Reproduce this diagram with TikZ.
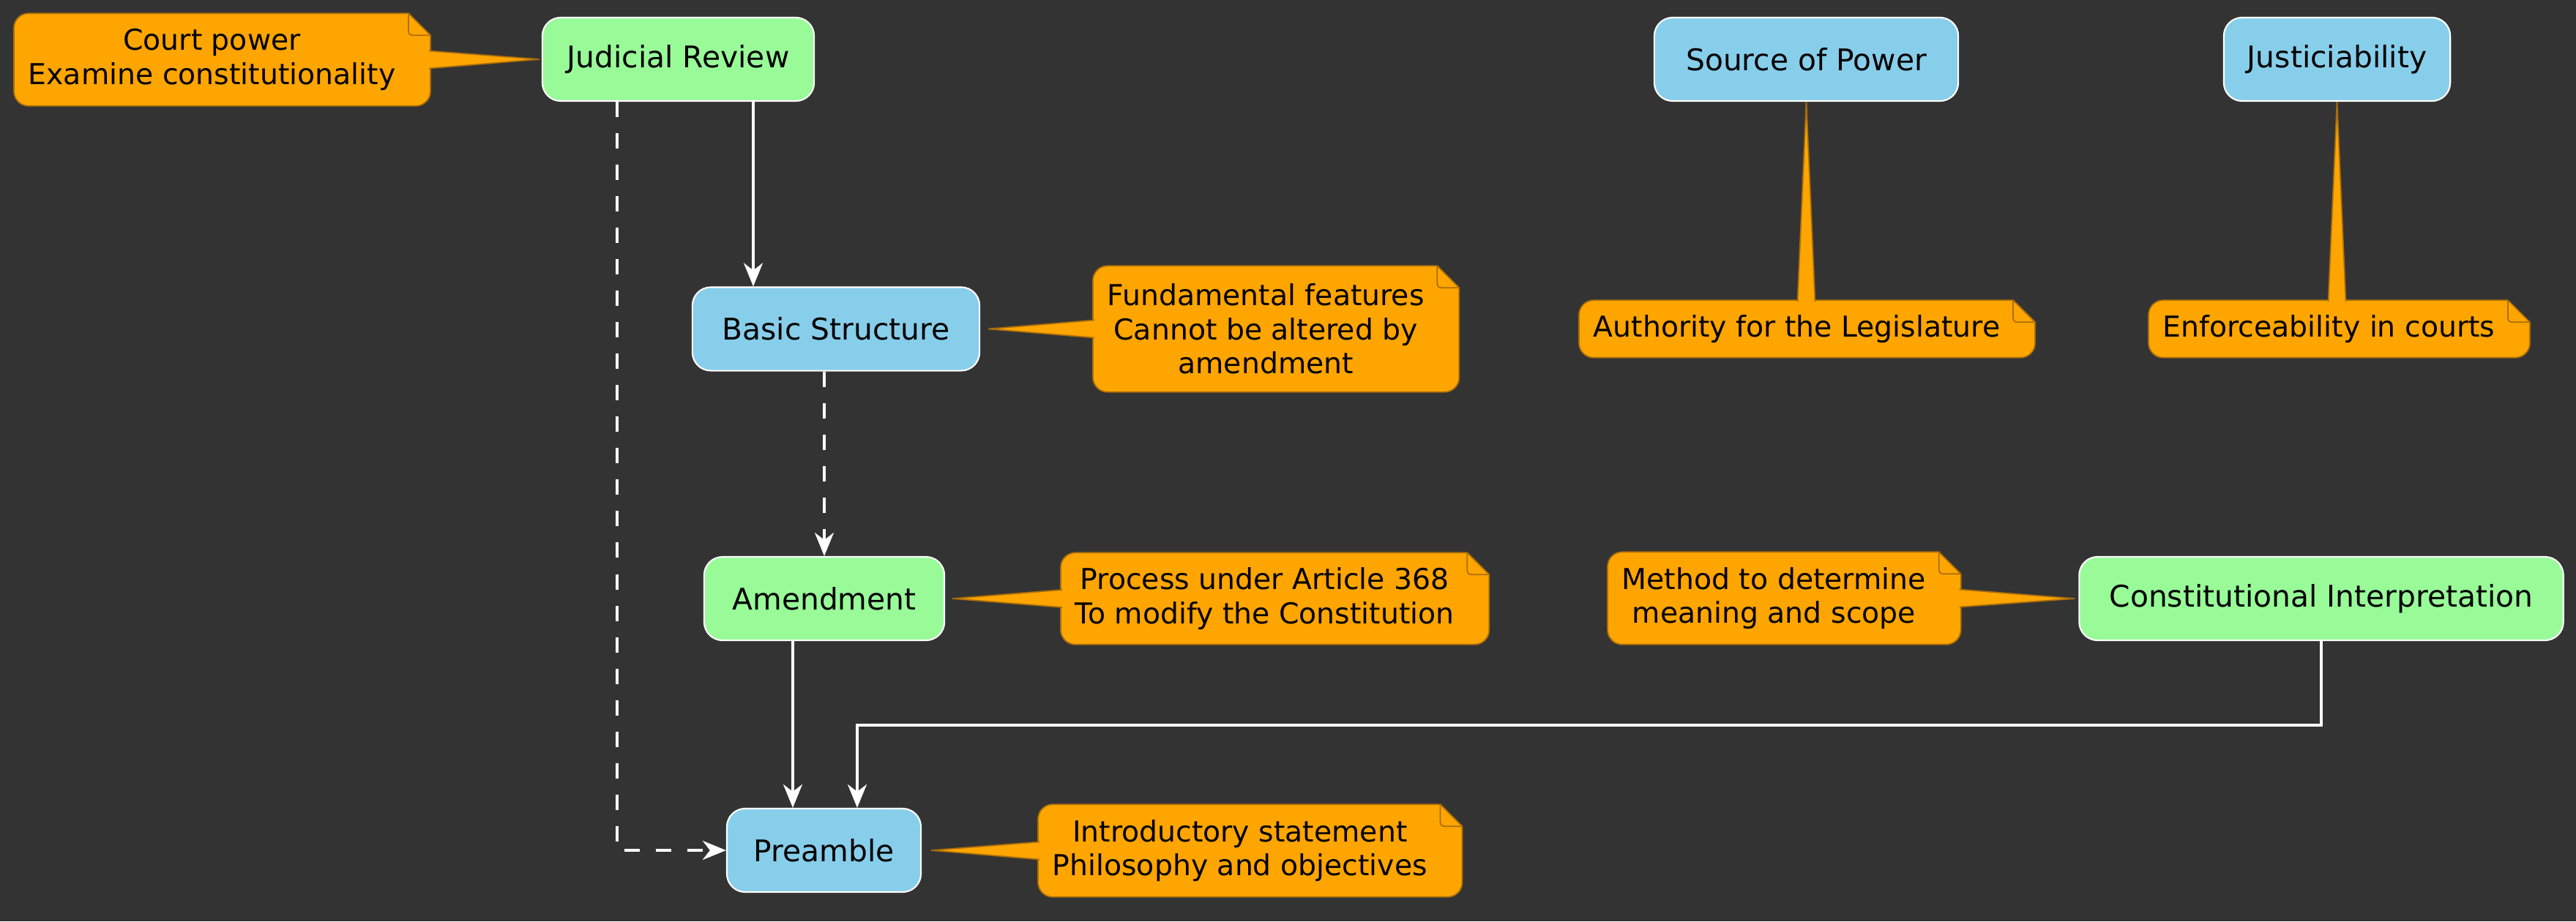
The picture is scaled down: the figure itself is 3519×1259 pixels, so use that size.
\documentclass[tikz,border=0pt]{standalone}
\usepackage{fontspec}
\setmainfont{DejaVu Sans}
\usetikzlibrary{arrows.meta,calc}

\definecolor{sfondo}{RGB}{51,51,51}
\definecolor{verdino}{RGB}{152,251,152}
\definecolor{azzurrino}{RGB}{135,206,235}
\definecolor{arancio}{RGB}{255,165,0}
\definecolor{bordonota}{RGB}{170,110,10}

\pgfdeclarelayer{fondo}
\pgfdeclarelayer{carta}
\pgfsetlayers{fondo,carta,main}

\tikzset{
  blocco/.style={draw=white, line width=0.6pt, rounded corners=0.25cm, minimum height=1.14cm,
    inner xsep=0.32cm, text=black, font=\fontsize{11.6}{14}\selectfont},
  verde/.style={blocco, fill=verdino},
  azzurro/.style={blocco, fill=azzurrino},
  nota/.style={anchor=west, inner xsep=0.19cm, inner ysep=0pt, align=center, text=black,
    font=\fontsize{11.2}{13.2}\selectfont},
  carta/.style={fill=arancio, draw=bordonota, line width=0.5pt},
  freccia/.style={draw=white, line width=1pt, -{Stealth[length=0.32cm, width=0.26cm, inset=0.1cm]}},
  tratteggio/.style={dash pattern=on 0.21cm off 0.22cm},
}

% foglio della nota con angolo piegato
\newcommand{\foglio}[1]{%
  \begin{pgfonlayer}{carta}
    \path[carta] ($(#1.north east)+(-2,0)$) -- ($(#1.north east)+(28,30)$)
      [rounded corners=0.2cm] -- ($(#1.south east)+(28,0)$) -- (#1.south west)
      -- (#1.north west) [sharp corners] -- cycle;
    \draw[bordonota, line width=0.5pt, rounded corners=0.05cm]
      ($(#1.north east)+(-2,0)$) |- ($(#1.north east)+(28,30)$);
  \end{pgfonlayer}}

\begin{document}
\begin{tikzpicture}[x=0.01cm, y=-0.01cm]
    % Sfondo
    \useasboundingbox (0,0) rectangle (3519,1259);
    \begin{pgfonlayer}{fondo}
      \fill[sfondo] (0,0) rectangle (3519,1259);
    \end{pgfonlayer}

    % Nodi
    \node[verde, minimum width=3.71cm] (JR) at (926.5,81) {Judicial Review};
    \node[azzurro, minimum width=3.92cm] (BS) at (1142,449.5) {Basic Structure};
    \node[verde, minimum width=3.28cm] (Am) at (1126,818) {Amendment};
    \node[azzurro, minimum width=2.65cm] (Pre) at (1125.5,1162) {Preamble};
    \node[azzurro, minimum width=4.15cm] (SoP) at (2467.5,81) {Source of Power};
    \node[azzurro, minimum width=3.03cm] (Jus) at (3192.5,81) {Justiciability};
    \node[verde, minimum width=6.61cm] (CI) at (3171,818) {Constitutional Interpretation};

    % Note
    \node[nota, minimum height=1.25cm] (nJR) at (19,81.5) {Court power\\Examine constitutionality};
    \node[nota, minimum height=1.71cm] (nBS) at (1493,449.5) {Fundamental features\\Cannot be altered by\\amendment};
    \node[nota, minimum height=1.24cm] (nAm) at (1449,818) {Process under Article 368\\To modify the Constitution};
    \node[nota, minimum height=1.25cm] (nPre) at (1418,1162.5) {Introductory statement\\Philosophy and objectives};
    \node[nota, minimum height=0.77cm] (nSoP) at (2157,449.5) {Authority for the Legislature};
    \node[nota, minimum height=0.77cm] (nJus) at (2935,449.5) {Enforceability in courts};
    \node[nota, minimum height=1.25cm] (nCI) at (2196,817.5) {Method to determine\\meaning and scope};
    \foglio{nJR} \foglio{nBS} \foglio{nAm} \foglio{nPre}
    \foglio{nSoP} \foglio{nJus} \foglio{nCI}

    % Punte delle note
    \begin{pgfonlayer}{carta}
      \path[carta] ($(nJR.east)+(26,-12)$) -- ($(JR.west)+(-3,0)$) -- ($(nJR.east)+(26,12)$);
      \path[carta] ($(nBS.west)+(2,-12)$) -- ($(BS.east)+(11,0)$) -- ($(nBS.west)+(2,12)$);
      \path[carta] ($(nAm.west)+(2,-12)$) -- ($(Am.east)+(10,0)$) -- ($(nAm.west)+(2,12)$);
      \path[carta] ($(nPre.west)+(2,-12)$) -- ($(Pre.east)+(13,0)$) -- ($(nPre.west)+(2,12)$);
      \path[carta] ($(nCI.east)+(26,-12)$) -- ($(CI.west)+(-5,0)$) -- ($(nCI.east)+(26,12)$);
      \path[carta] ($(nSoP.north -| SoP.south)+(-12,2)$) -- (SoP.south) -- ($(nSoP.north -| SoP.south)+(12,2)$);
      \path[carta] ($(nJus.north -| Jus.south)+(-12,2)$) -- (Jus.south) -- ($(nJus.north -| Jus.south)+(12,2)$);
    \end{pgfonlayer}

    % Frecce
    \coordinate (xa) at (1029,0);
    \coordinate (xb) at (843,0);
    \coordinate (xc) at (1083,0);
    \coordinate (gomito) at (1171,991);
    \draw[freccia] (JR.south -| xa) -- (BS.north -| xa);
    \draw[freccia, tratteggio] (JR.south -| xb) |- (Pre.west);
    \draw[freccia, tratteggio] (BS.south -| Am.north) -- (Am.north);
    \draw[freccia] (Am.south -| xc) -- (Pre.north -| xc);
    \draw[freccia] (CI.south) |- (gomito) -- (Pre.north -| gomito);

\end{tikzpicture}
\end{document}
